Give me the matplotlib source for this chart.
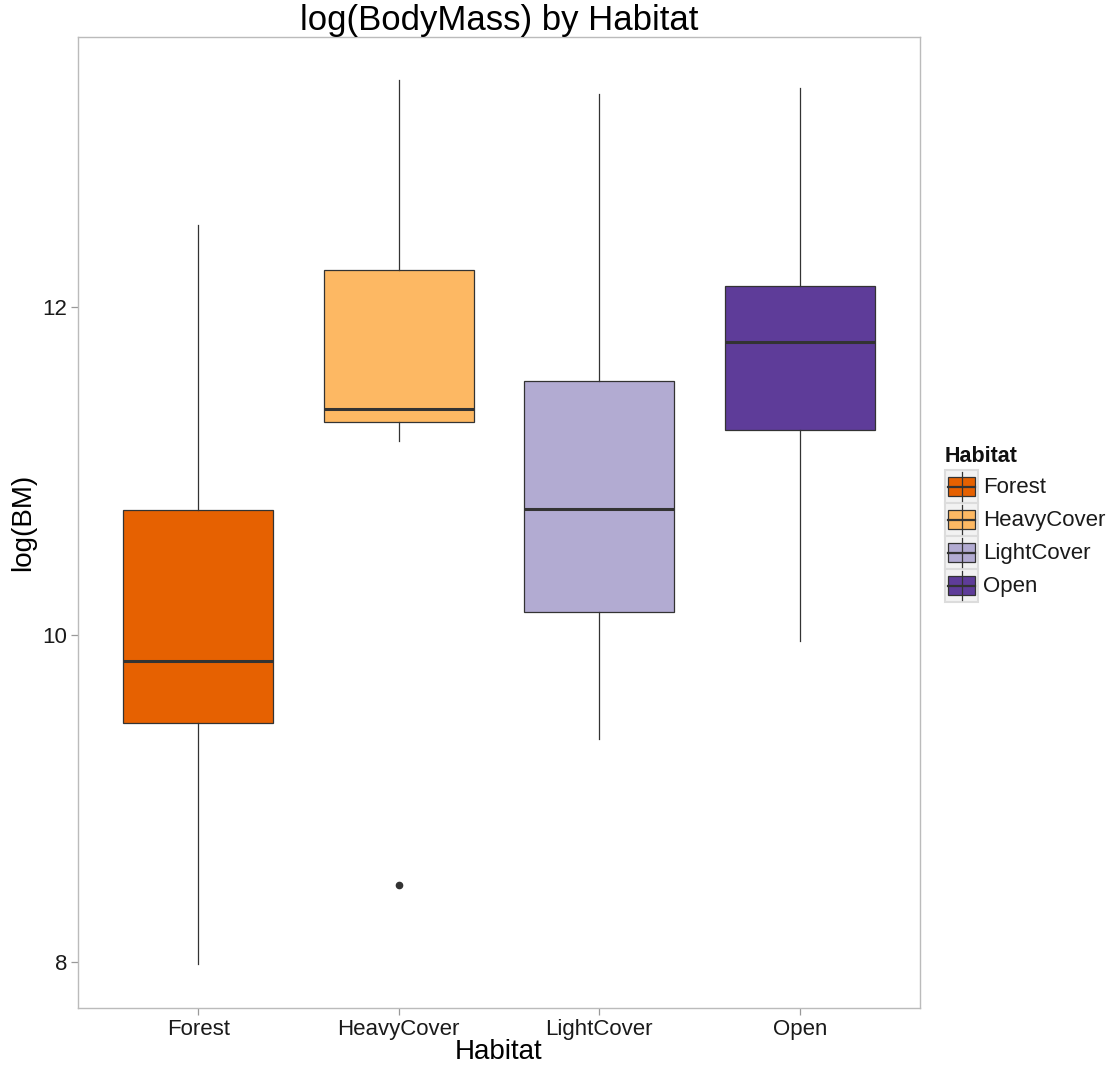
import matplotlib
matplotlib.use("Agg")
import matplotlib.pyplot as plt
from matplotlib.patches import Rectangle

plt.rcParams['font.family'] = ['Liberation Sans', 'DejaVu Sans']

# Box statistics of log(BodyMass) per habitat
habitats = ["Forest", "HeavyCover", "LightCover", "Open"]
whisker_low = [7.99, 11.18, 9.36, 9.96]
q1 = [9.46, 11.30, 10.14, 11.25]
median = [9.84, 11.38, 10.77, 11.79]
q3 = [10.76, 12.23, 11.55, 12.13]
whisker_high = [12.50, 13.39, 13.30, 13.34]
outliers = [[], [8.47], [], []]
colors = ["#E66101", "#FDB863", "#B2ABD2", "#5E3C99"]

EDGE = "#333333"
W, H = 1118, 1072

fig = plt.figure(figsize=(W / 100, H / 100), dpi=100)
ax = fig.add_axes([78 / W, 1 - 1008 / H, 842 / W, 971 / H])

stats = []
for i, h in enumerate(habitats):
    stats.append(dict(label=h, whislo=whisker_low[i], q1=q1[i], med=median[i],
                      q3=q3[i], whishi=whisker_high[i], fliers=outliers[i]))

positions = list(range(1, len(habitats) + 1))
bp = ax.bxp(stats, positions=positions, widths=0.75, patch_artist=True,
            showcaps=False,
            boxprops=dict(edgecolor=EDGE, linewidth=0.9),
            whiskerprops=dict(color=EDGE, linewidth=0.9),
            medianprops=dict(color=EDGE, linewidth=2.2),
            flierprops=dict(marker='o', markersize=4.5, markerfacecolor=EDGE,
                            markeredgecolor=EDGE))
for patch, c in zip(bp['boxes'], colors):
    patch.set_facecolor(c)

ax.set_xlim(0.4, 4.6)
ax.set_ylim(7.72, 13.65)
ax.set_yticks([8, 10, 12])
ax.set_xticks(positions)
ax.set_xticklabels(habitats)
ax.tick_params(axis='both', which='major', labelsize=16, color='#999999',
               length=5, width=0.9, labelcolor='#1a1a1a', pad=3)
for s in ax.spines.values():
    s.set_color('#bbbbbb')
    s.set_linewidth(1.0)

ax.set_xlabel("Habitat", fontsize=20, labelpad=-1)
ax.set_ylabel("log(BM)", fontsize=20, labelpad=4)
ax.set_title("log(BodyMass) by Habitat", fontsize=25, pad=2)

# Legend drawn as its own panel in pixel units
lax = fig.add_axes([0, 0, 1, 1], zorder=5)
lax.set_xlim(0, W)
lax.set_ylim(H, 0)
lax.axis('off')
lax.text(945, 462, "Habitat", fontsize=15.5, fontweight='bold', va='baseline',
         ha='left', color='#111111')
key = 33
top0 = 470
for i, (name, c) in enumerate(zip(habitats, colors)):
    y0 = top0 + i * key
    lax.add_patch(Rectangle((945, y0), key, key, facecolor='#f2f2f2',
                            edgecolor='#dcdcdc', linewidth=1.5))
    cx = 945 + key / 2
    lax.plot([cx, cx], [y0 + 2, y0 + key - 2], color=EDGE, linewidth=0.9)
    lax.add_patch(Rectangle((948, y0 + 7), key - 6, key - 14, facecolor=c,
                            edgecolor=EDGE, linewidth=0.9))
    lax.plot([948, 945 + key - 3], [y0 + key / 2] * 2, color=EDGE, linewidth=1.6)
    lax.text(983, y0 + key / 2 + 1, name, fontsize=16, va='center', ha='left',
             color='#1a1a1a')

fig.savefig("out.png", dpi=100, facecolor='white')
